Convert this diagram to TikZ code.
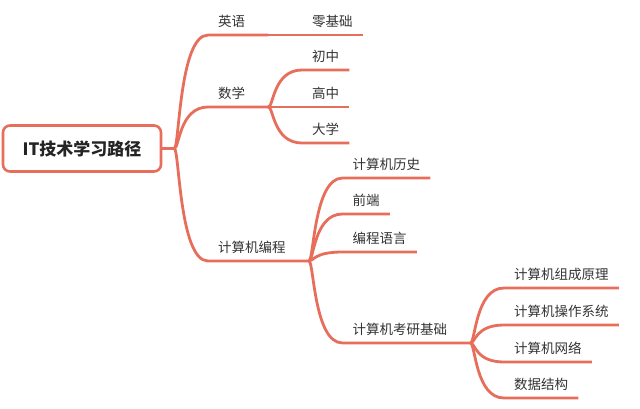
\documentclass[tikz,border=0pt]{standalone}
\usepackage{fontspec}
\setmainfont{Noto Sans CJK SC}
\usepackage{tikz}
\usetikzlibrary{calc}
\definecolor{corallo}{RGB}{232,110,92}
\definecolor{grigio}{RGB}{51,51,51}
\tikzset{
	ramo/.style={draw=corallo, line width=2.8pt},
	curva/.style={to path={.. controls ([xshift=5pt]\tikztostart) and ([xshift=5pt]\tikztostart |- \tikztotarget) .. (\tikztotarget)}},
	voce/.style={anchor=south west, inner xsep=10pt, inner ysep=6pt, text height=11pt, text depth=2pt, font=\fontsize{13.5}{16}\selectfont, text=grigio},
	radice/.style={draw=corallo, line width=2.6pt, rounded corners=7pt, minimum width=158pt, minimum height=46pt, font=\fontsize{17}{20}\selectfont\bfseries, text=grigio!70!black}
}

\begin{document}
\begin{tikzpicture}[x=1pt, y=-1pt]
					\useasboundingbox (0,0) rectangle (640,408);
					%%%	Help Lines
%					\draw [thin, help lines] (0,0) grid[step=40] (640,408);

					%%% Nodi
					\node[radice] (root) at (82,148.5) {IT技术学习路径};		% Radice
					\coordinate (root-h) at ([xshift=12pt]root.east);
					
					\node[voce] (en) at (208,35) {英语};
					\node[voce] (math) at (208,107) {数学};
					\node[voce] (prog) at (208,261) {计算机编程};
					\coordinate (en-h) at ([xshift=13pt]en.south east);
					\coordinate (math-h) at ([xshift=13pt]math.south east);
					\coordinate (prog-h) at ([xshift=13pt]prog.south east);
					
					\node[voce] (zero) at (302,35) {零基础};
					\node[voce] (jun) at (302,70) {初中};
					\node[voce] (sen) at (302,107) {高中};
					\node[voce] (uni) at (302,143) {大学};
					
					\node[voce] (hist) at (342.5,178) {计算机历史};
					\node[voce] (front) at (342.5,214) {前端};
					\node[voce] (lang) at (342.5,252) {编程语言};
					\node[voce] (exam) at (342.5,343) {计算机考研基础};
					\coordinate (exam-h) at ([xshift=13pt]exam.south east);
					
					\node[voce] (org) at (504,288) {计算机组成原理};
					\node[voce] (os) at (504,325) {计算机操作系统};
					\node[voce] (net) at (504,362) {计算机网络};
					\node[voce] (ds) at (504,398) {数据结构};
					
					%%% Rami
					\draw[ramo] (root.east) -- (root-h);
					\draw[ramo] (root-h) to[curva] (en.south west) -- (en.south east) -- (en-h);
					\draw[ramo] (root-h) to[curva] (math.south west) -- (math.south east) -- (math-h);
					\draw[ramo] (root-h) to[curva] (prog.south west) -- (prog.south east) -- (prog-h);
					
					\draw[ramo] (en-h) to[curva] (zero.south west) -- (zero.south east);
					\foreach \c in {jun, sen, uni}
						\draw[ramo] (math-h) to[curva] (\c.south west) -- (\c.south east);
					\foreach \c in {hist, front, lang}
						\draw[ramo] (prog-h) to[curva] (\c.south west) -- (\c.south east);
					\draw[ramo] (prog-h) to[curva] (exam.south west) -- (exam.south east) -- (exam-h);
					\foreach \c in {org, os, net, ds}
						\draw[ramo] (exam-h) to[curva] (\c.south west) -- (\c.south east);
				\end{tikzpicture}
\end{document}
